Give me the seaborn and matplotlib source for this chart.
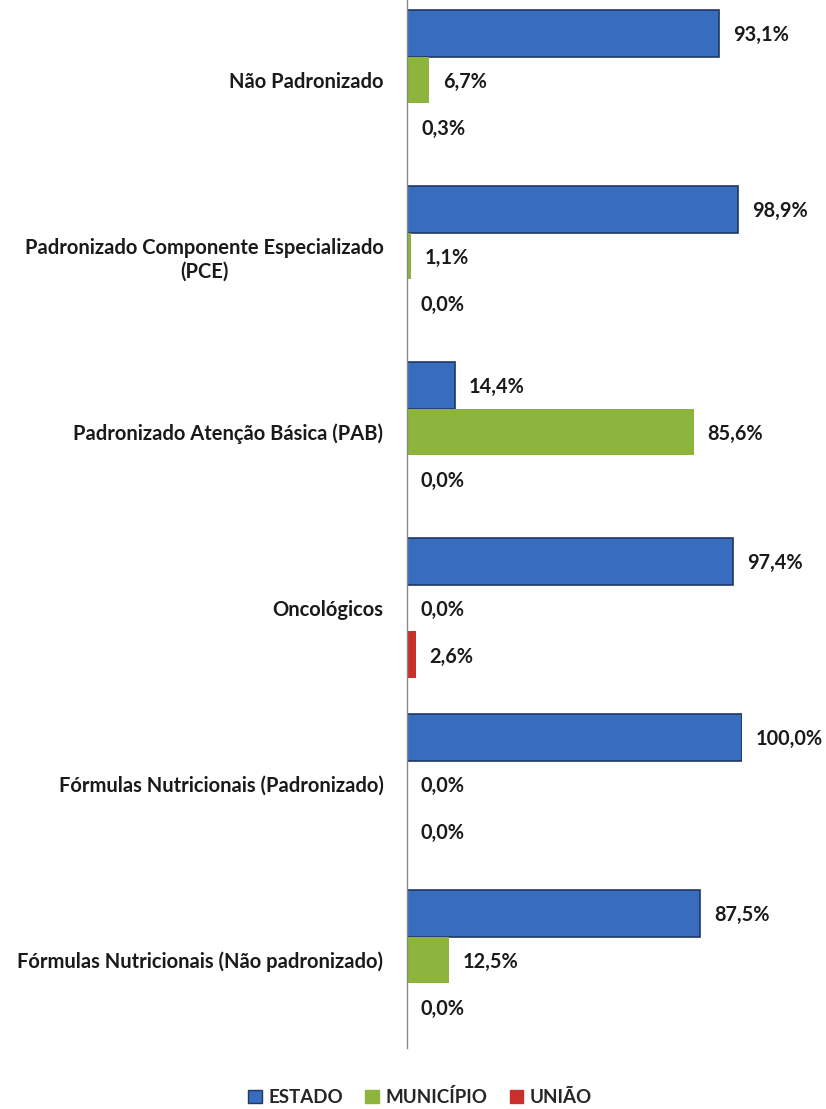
import pandas as pd
import numpy as np
import matplotlib
matplotlib.use("Agg")
import matplotlib.pyplot as plt
import seaborn as sns

sns.set_style("white")
plt.rcParams["font.family"] = ["Lato", "DejaVu Sans"]

# dados
categorias = [
    "Não Padronizado",
    "Padronizado Componente Especializado\n(PCE)",
    "Padronizado Atenção Básica (PAB)",
    "Oncológicos",
    "Fórmulas Nutricionais (Padronizado)",
    "Fórmulas Nutricionais (Não padronizado)",
]
esferas = ["ESTADO", "MUNICÍPIO", "UNIÃO"]
estado = [93.1, 98.9, 14.4, 97.4, 100.0, 87.5]
municipio = [6.7, 1.1, 85.6, 0.0, 0.0, 12.5]
uniao = [0.3, 0.0, 0.0, 2.6, 0.0, 0.0]

cores = {"ESTADO": "#386CBE", "MUNICÍPIO": "#8DB53E", "UNIÃO": "#C9302C"}

df = pd.DataFrame({
    "categoria": categorias * 3,
    "esfera": [e for e in esferas for _ in categorias],
    "valor": estado + municipio + uniao,
})

fig = plt.figure(figsize=(8.26, 11.09), dpi=100)
ax = fig.add_axes([407 / 826, 61 / 1109, 335 / 826, 1056 / 1109])

sns.barplot(data=df, y="categoria", x="valor", hue="esfera", orient="h",
            palette=cores, order=categorias, hue_order=esferas,
            width=0.8, saturation=1, ax=ax, legend=False)

for cont, esf in zip(ax.containers, esferas):
    for barra in cont:
        if esf == "ESTADO":
            barra.set_edgecolor("#1F3864")
            barra.set_linewidth(1.2)
        else:
            barra.set_linewidth(0)
    rotulos = ax.bar_label(cont, labels=[f"{v:.1f}%".replace(".", ",") for v in cont.datavalues],
                           padding=10, fontsize=14.3, fontweight="bold", color="#1a1a1a")
    for r in rotulos:
        r.set_va("center_baseline")

ax.set_xlim(0, 100)
ax.set_ylim(5.5, -0.5)
ax.set_xlabel("")
ax.set_ylabel("")
ax.set_xticks([])
for s in ["top", "right", "bottom"]:
    ax.spines[s].set_visible(False)
ax.spines["left"].set_color("#888888")
ax.spines["left"].set_linewidth(1)
ax.tick_params(axis="y", length=0, pad=17)
for lab in ax.get_yticklabels():
    lab.set_fontsize(14.5)
    lab.set_fontweight("bold")
    lab.set_multialignment("center")
    lab.set_color("#1a1a1a")

handles = [plt.Rectangle((0, 0), 1, 1, facecolor=cores[e],
                         edgecolor="#1F3864" if e == "ESTADO" else cores[e], linewidth=1)
           for e in esferas]
fig.legend(handles, esferas, loc="center", bbox_to_anchor=(420 / 826, 1 - 1097 / 1109),
           ncol=3, frameon=False, handlelength=0.7, handleheight=0.7,
           handletextpad=0.35, columnspacing=1.2,
           prop={"size": 13.5, "weight": "bold"})

fig.savefig("out.png", dpi=100)
